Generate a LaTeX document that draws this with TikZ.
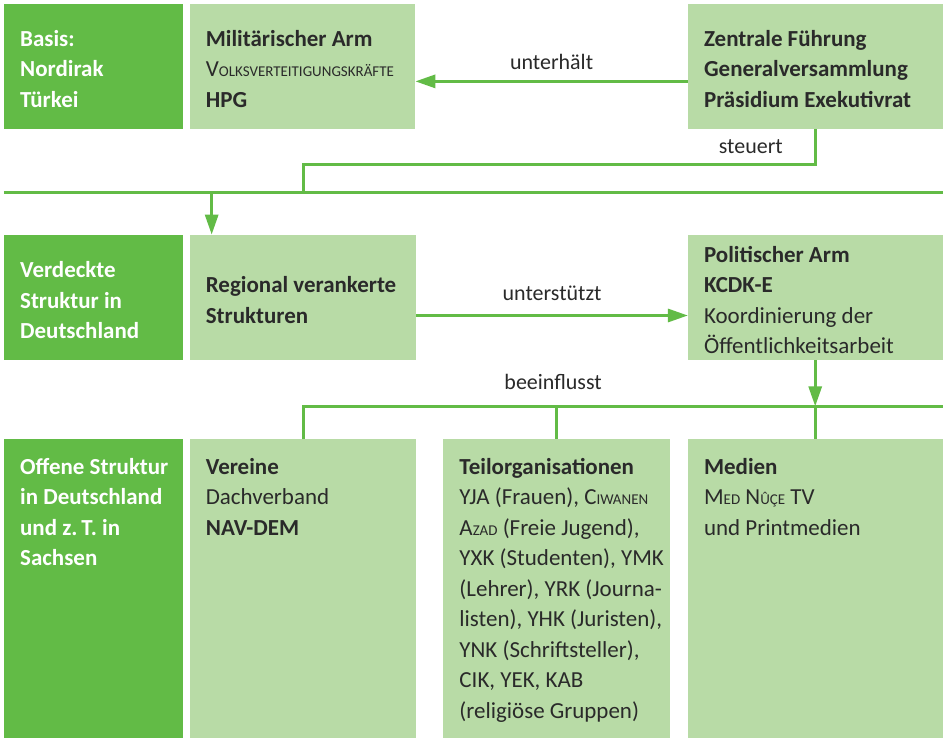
\documentclass[tikz,border=0pt]{standalone}
\usepackage{fontspec}
\setmainfont{Carlito}
\usetikzlibrary{positioning, arrows.meta}
\definecolor{darkgreen}{HTML}{62BB46}
\definecolor{lightgreen}{HTML}{B8DBA6}
\definecolor{textgray}{HTML}{2A2A2A}
\newcommand\smc{\fontsize{15}{30.5}\selectfont} % fake small caps
\tikzset{
	box/.style={inner sep=0pt, outer sep=0pt, anchor=north west}, % base for all boxes
	darkbox/.style={box, fill=darkgreen, minimum width=179pt},
	lightbox/.style={box, fill=lightgreen},
	boxtext/.style={inner sep=0pt, align=left, font=\fontsize{23}{30.5}\selectfont, text=textgray},
	headtext/.style={boxtext, text=white, font=\fontsize{23}{30.5}\selectfont\bfseries},
	flow/.style={draw=darkgreen, line width=3pt},
	arrow/.style={flow, -{Triangle[length=20pt,width=13pt]}},
	verb/.style={font=\fontsize{22}{26}\selectfont, text=textgray, inner sep=0pt},
}
\begin{document}
\begin{tikzpicture}[x=1pt, y=-1pt, node distance=7pt]
	\fill[white] (0,0) rectangle (944,739);
	% first row
	\node[darkbox, minimum height=125pt] (basis) at (4,4) {};
	\node[lightbox, minimum width=226pt, minimum height=125pt, right=of basis] (militaer) {};
	\node[lightbox, minimum width=255pt, minimum height=125pt] (zentrale) at (689,4) {};
	% second row
	\node[darkbox, minimum height=126pt, below=106pt of basis] (verdeckt) {};
	\node[lightbox, minimum width=227pt, minimum height=126pt, right=of verdeckt] (regional) {};
	\node[lightbox, minimum width=255pt, minimum height=126pt] (politisch) at (689,235) {};
	% third row
	\node[darkbox, minimum height=299pt, below=79pt of verdeckt] (offen) {};
	\node[lightbox, minimum width=227pt, minimum height=299pt, right=of offen] (vereine) {};
	\node[lightbox, minimum width=227pt, minimum height=299pt, right=27pt of vereine] (teilorg) {};
	\node[lightbox, minimum width=255pt, minimum height=299pt] (medien) at (689,440) {};

	% texts
	\node[headtext, anchor=west] (basistext) at ([xshift=16pt,yshift=-2.5pt]basis.west) {Basis:\\Nordirak\\Türkei};
	\node[boxtext, anchor=west] (militaertext) at ([xshift=16pt,yshift=-2.5pt]militaer.west)
		{\textbf{Militärischer Arm}\\V{\smc OLKSVERTEITIGUNGSKRÄFTE}\\\textbf{HPG}};
	\node[boxtext, anchor=west, font=\fontsize{23}{30.5}\selectfont\bfseries] (zentraletext) at ([xshift=16pt,yshift=-2.5pt]zentrale.west)
		{Zentrale Führung\\Generalversammlung\\Präsidium Exekutivrat};
	\node[headtext, anchor=west] (verdeckttext) at ([xshift=16pt,yshift=-2.5pt]verdeckt.west) {Verdeckte\\Struktur in\\Deutschland};
	\node[boxtext, anchor=west, font=\fontsize{23}{30.5}\selectfont\bfseries] (regionaltext) at ([xshift=16pt,yshift=-2.5pt]regional.west)
		{Regional verankerte\\Strukturen};
	\node[boxtext, anchor=west] (politischtext) at ([xshift=16pt,yshift=-2.5pt]politisch.west)
		{\textbf{Politischer Arm}\\\textbf{KCDK-E}\\Koordinierung der\\Öffentlichkeitsarbeit};
	\node[headtext, anchor=north west] (offentext) at ([xshift=16pt,yshift=-13.6pt]offen.north west)
		{\strut Offene Struktur\\in Deutschland\\und z.\,T. in\\Sachsen};
	\node[boxtext, anchor=north west] (vereinetext) at ([xshift=16pt,yshift=-13.6pt]vereine.north west)
		{\strut\textbf{Vereine}\\Dachverband\\\textbf{NAV-DEM}};
	\node[boxtext, anchor=north west] (teilorgtext) at ([xshift=16pt,yshift=-13.6pt]teilorg.north west)
		{\strut\textbf{Teilorganisationen}\\YJA (Frauen), C{\smc IWANEN}\\A{\smc ZAD} (Freie Jugend),\\YXK (Studenten), YMK\\(Lehrer), YRK (Journa-\\listen), YHK (Juristen),\\YNK (Schriftsteller),\\CIK, YEK, KAB\\(religiöse Gruppen)};
	\node[boxtext, anchor=north west] (medientext) at ([xshift=16pt,yshift=-13.6pt]medien.north west)
		{\strut\textbf{Medien}\\M{\smc ED} N{\smc ÛÇE} TV\\und Printmedien};

	% connectors
	\coordinate (obenL) at (4,193);
	\coordinate (obenR) at (944,193);
	\coordinate (untenR) at (944,407);
	\draw[arrow] ([yshift=-15pt]zentrale.west) -- ([yshift=-15pt]militaer.east)
		node[verb, midway, above=10pt] {unterhält};
	\draw[flow] (zentrale.south) -- ++(0,36) -| (regional.north |- obenL);
	\node[verb] (steuert) at (752,147) {steuert};
	\draw[flow] (obenL) -- (obenR);
	\draw[arrow] ([xshift=22pt]regional.north west |- obenL) -- ([xshift=22pt]regional.north west);
	\draw[arrow] ([yshift=-18pt]regional.east) -- ([yshift=-18pt]politisch.west)
		node[verb, midway, above=13pt] {unterstützt};
	\draw[arrow] (politisch.south) -- (politisch.south |- untenR);
	\draw[flow] (vereine.north) -- (vereine.north |- untenR) -- (untenR);
	\foreach \ziel in {teilorg, medien}
		\draw[flow] (\ziel.north |- untenR) -- (\ziel.north);
	\node[verb] (beeinflusst) at (554,383) {beeinflusst};
\end{tikzpicture}
\end{document}
